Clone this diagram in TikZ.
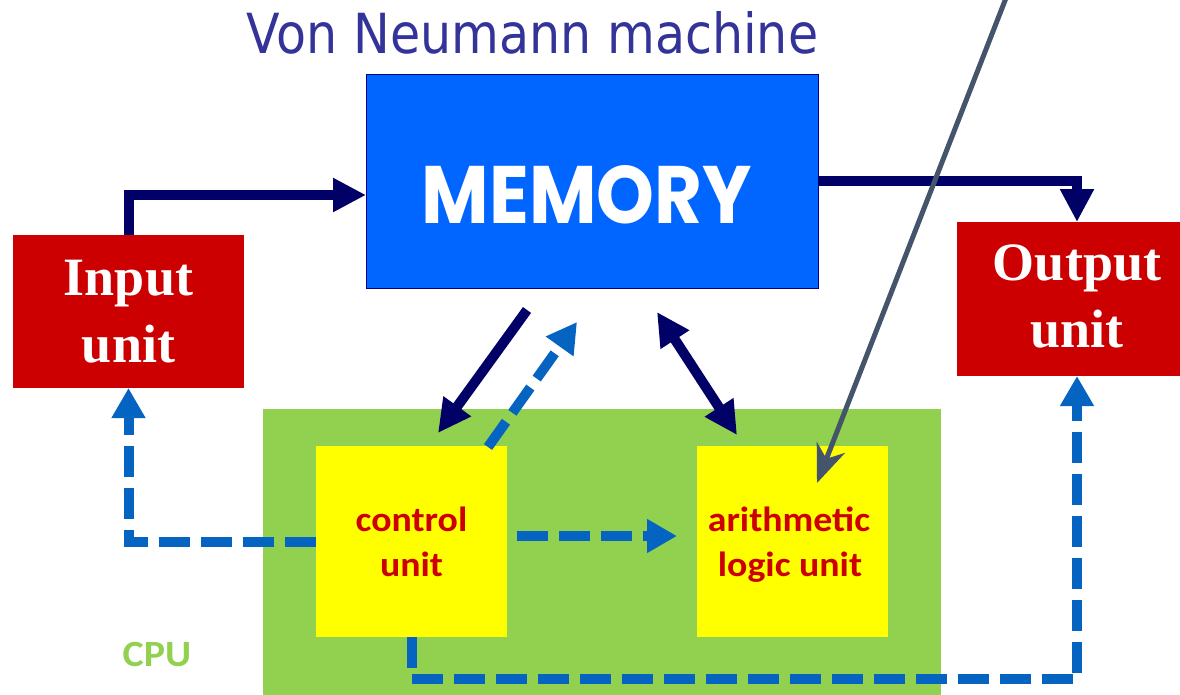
\documentclass[tikz,border=0pt]{standalone}
\usepackage{fontspec}
\setmainfont{Liberation Serif}
\newfontfamily\titlefont{DejaVu Sans}
\newfontfamily\memfont{Poppins}
\newfontfamily\calfont{Carlito}
\usetikzlibrary{arrows.meta,calc}

\definecolor{titleblue}{HTML}{333399}
\definecolor{memblue}{HTML}{0066FF}
\definecolor{memedge}{HTML}{000080}
\definecolor{navy}{HTML}{000066}
\definecolor{dashblue}{HTML}{0563C1}
\definecolor{unitred}{HTML}{CC0000}
\definecolor{cpugreen}{HTML}{92D050}
\definecolor{boxyellow}{HTML}{FFFF00}
\definecolor{pointergray}{HTML}{44546A}

\tikzset{
  block/.style={rectangle, inner sep=0pt, outer sep=0pt},
  iobox/.style={block, fill=unitred},
  partbox/.style={block, fill=boxyellow},
  iotext/.style={inner sep=0pt, anchor=base, text=white,
    font=\bfseries\fontsize{54}{67}\selectfont},
  parttext/.style={inner sep=0pt, anchor=base, text=unitred,
    font=\calfont\bfseries\fontsize{35}{45}\selectfont},
  solidarrow/.style={draw=navy, line width=10pt, line join=miter,
    -{Triangle[length=33pt,width=32pt]}},
  botharrow/.style={draw=navy, line width=10pt,
    {Triangle[length=33pt,width=32pt]}-{Triangle[length=33pt,width=32pt]}},
  dasharrow/.style={draw=dashblue, line width=10pt, line join=miter,
    dash pattern=on 31pt off 11pt, -{Triangle[length=30pt,width=32pt]}},
  pointer/.style={draw=pointergray, line width=5pt,
    -{Stealth[length=38pt,width=30pt,inset=12pt]}}
}

\begin{document}
\begin{tikzpicture}[x=1pt,y=-1pt]
  \useasboundingbox (0,0) rectangle (1180,694);
  \clip (0,0) rectangle (1180,694);

  % heading
  \node[inner sep=0pt, anchor=base, text=titleblue] (title) at (532.5,53)
    {\titlefont\resizebox{571pt}{42pt}{Von Neumann machine}};

  % processor area
  \node[block, fill=cpugreen, minimum width=678pt, minimum height=291pt]
    (cpu) at (602,554.5) {};
  \node[inner sep=0pt, anchor=base, text=cpugreen,
    font=\calfont\bfseries\fontsize{37}{44}\selectfont] (cpulabel) at (157,666)
    {\scalebox{1.08}[1]{CPU}};

  % memory
  \node[block, fill=memblue, draw=memedge, line width=1pt,
    minimum width=452pt, minimum height=214pt] (memory) at (592,181) {};
  \node[inner sep=0pt, anchor=base, text=white] (memtext) at (587,223)
    {\memfont\bfseries\resizebox{330pt}{58pt}{MEMORY}};

  % input and output
  \node[iobox, minimum width=231pt, minimum height=153pt] (input) at (128.5,311.5) {};
  \node[iotext] (inputl1) at (128.5,295) {Input};
  \node[iotext] (inputl2) at (128.5,362) {unit};

  \node[iobox, minimum width=240pt, minimum height=154pt] (output) at (1077,299) {};
  \node[iotext] (outputl1) at (1077,280) {Output};
  \node[iotext] (outputl2) at (1077,347) {unit};

  % control unit and ALU
  \node[partbox, minimum width=191pt, minimum height=191pt] (cu) at (411.5,541.5) {};
  \node[parttext] (cul1) at (411.5,531) {\scalebox{1.08}[1]{control}};
  \node[parttext] (cul2) at (411.5,576) {\scalebox{1.08}[1]{unit}};

  \node[partbox, minimum width=191pt, minimum height=191pt] (alu) at (792.5,541.5) {};
  \node[parttext] (alul1) at (789,531) {\scalebox{1.08}[1]{arithmetic}};
  \node[parttext] (alul2) at (790,576) {\scalebox{1.08}[1]{logic unit}};

  % data paths
  \draw[solidarrow] (input.north) |- ($(memory.west)+(0,14)$);
  \draw[solidarrow] (memory.east) -| (output.north);
  \draw[solidarrow] ($(memory.south)+(-65,22)$) -- ($(cu.north)+(26.5,-13)$);
  \draw[botharrow] ($(memory.south)+(65,24)$) -- ($(alu.north)+(-55.5,-11)$);

  % control signals
  \draw[dasharrow] ($(cu.north east)+(-19,1)$) -- ($(memory.south)+(-15,34)$);
  \draw[dasharrow] ($(cu.east)+(10,-5.5)$) -- ($(alu.west)+(-20,-5.5)$);
  \draw[dasharrow] (cu.west) -| (input.south);
  \draw[dasharrow] (cu.south) -- ++(0,42) -| (output.south);

  % pointer into the ALU
  \coordinate (pointerstart) at (1006,-2);
  \draw[pointer] (pointerstart) -- ($(alu.north)+(24.5,37)$);
\end{tikzpicture}
\end{document}
